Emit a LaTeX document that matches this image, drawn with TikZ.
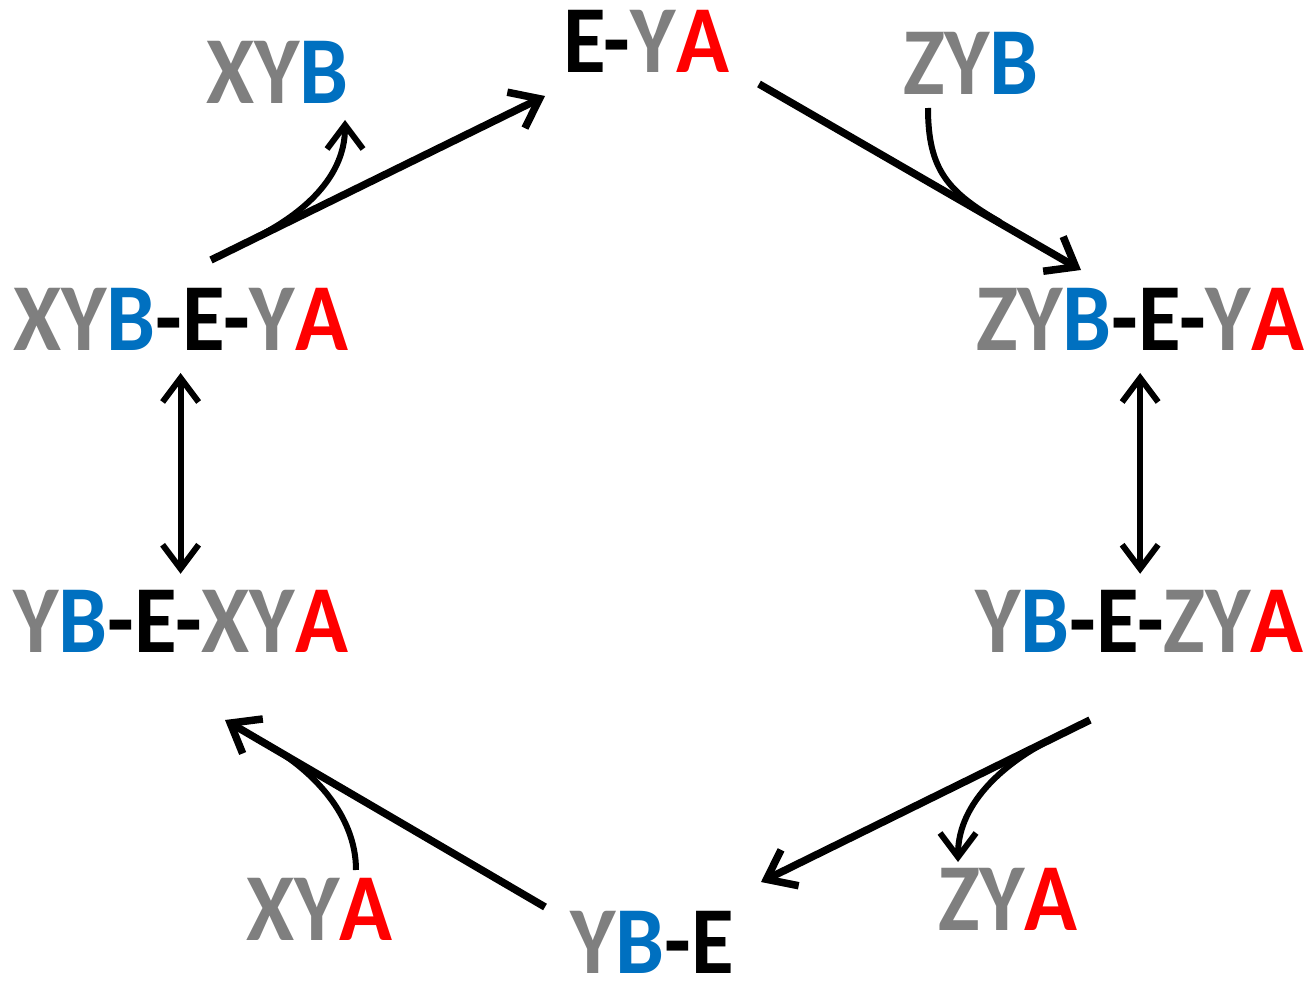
\documentclass[tikz,border=0pt]{standalone}
\usepackage{fontspec}
\setmainfont{Carlito}
\usetikzlibrary{arrows.meta,calc}
\definecolor{fgray}{HTML}{7F7F7F}
\definecolor{fblue}{HTML}{0070C0}
\definecolor{fred}{HTML}{FF0000}
\newcommand{\g}[1]{\textcolor{fgray}{#1}}
\newcommand{\bl}[1]{\textcolor{fblue}{#1}}
\newcommand{\rd}[1]{\textcolor{fred}{#1}}
\newcommand{\narrow}[1]{\scalebox{0.91}[1]{#1}}
\tikzset{
  species/.style={anchor=base west,inner sep=0pt,outer sep=0pt,
    font=\fontsize{96}{100}\selectfont\bfseries},
  mainarrow/.style={line width=7.5pt,-{Straight Barb[length=26pt,width=40pt]}},
  sidearrow/.style={line width=6pt},
  sidetip/.style={-{Straight Barb[length=24pt,width=36pt]}},
  revarrow/.style={line width=6pt,{Straight Barb[length=24pt,width=36pt]}-{Straight Barb[length=24pt,width=36pt]}},
}
\begin{document}
\begin{tikzpicture}[x=1pt,y=-1pt]
\useasboundingbox (0,0) rectangle (1309,981);
% species
\node[species] (eya)    at (563,73)  {\narrow{E-\g{Y}\rd{A}}};
\node[species] (xyb)    at (206,104) {\narrow{\g{XY}\bl{B}}};
\node[species] (zyb)    at (903,95)  {\narrow{\g{ZY}\bl{B}}};
\node[species] (xybeya) at (13,351)  {\narrow{\g{XY}\bl{B}-E-\g{Y}\rd{A}}};
\node[species] (zybeya) at (976,351) {\narrow{\g{ZY}\bl{B}-E-\g{Y}\rd{A}}};
\node[species] (ybexya) at (13,652)  {\narrow{\g{Y}\bl{B}-E-\g{XY}\rd{A}}};
\node[species] (ybezya) at (975,652) {\narrow{\g{Y}\bl{B}-E-\g{ZY}\rd{A}}};
\node[species] (xya)    at (246,940) {\narrow{\g{XY}\rd{A}}};
\node[species] (ybe)    at (570,973) {\narrow{\g{Y}\bl{B}-E}};
\node[species] (zya)    at (938,930) {\narrow{\g{ZY}\rd{A}}};
% connector end points
\coordinate (s1) at (211,260);  \coordinate (e1) at (545,96);
\coordinate (s2) at (759,84);   \coordinate (e2) at (1081,270);
\coordinate (s3) at (1090,720); \coordinate (e3) at (761,882);
\coordinate (s4) at (545,907);  \coordinate (e4) at (225,720);
% XYB-E-YA -> E-YA, releasing XYB
\draw[mainarrow] (s1) -- (e1);
\draw[sidearrow,sidetip]
  (255,238) .. controls (295,218) and (345,182) .. (345,120);
% E-YA -> ZYB-E-YA, taking up ZYB
\draw[mainarrow] (s2) -- (e2);
\draw[sidearrow] (928,108) .. controls (928,170) and (948,192) .. (1000,222);
% ZYB-E-YA <-> YB-E-ZYA
\draw[revarrow,shorten <=22pt,shorten >=16pt] (zybeya.south) -- (zybeya.south |- ybezya.north);
% YB-E-ZYA -> YB-E, releasing ZYA
\draw[mainarrow] (s3) -- (e3);
\draw[sidearrow,sidetip]
  (1050,740) .. controls (1010,760) and (958,800) .. (958,862);
% YB-E -> YB-E-XYA, taking up XYA
\draw[mainarrow] (s4) -- (e4);
\draw[sidearrow] (356,870) .. controls (356,815) and (313,771) .. (270,746);
% YB-E-XYA <-> XYB-E-YA
\draw[revarrow,shorten <=22pt,shorten >=16pt] (xybeya.south) -- (xybeya.south |- ybexya.north);
\end{tikzpicture}
\end{document}
